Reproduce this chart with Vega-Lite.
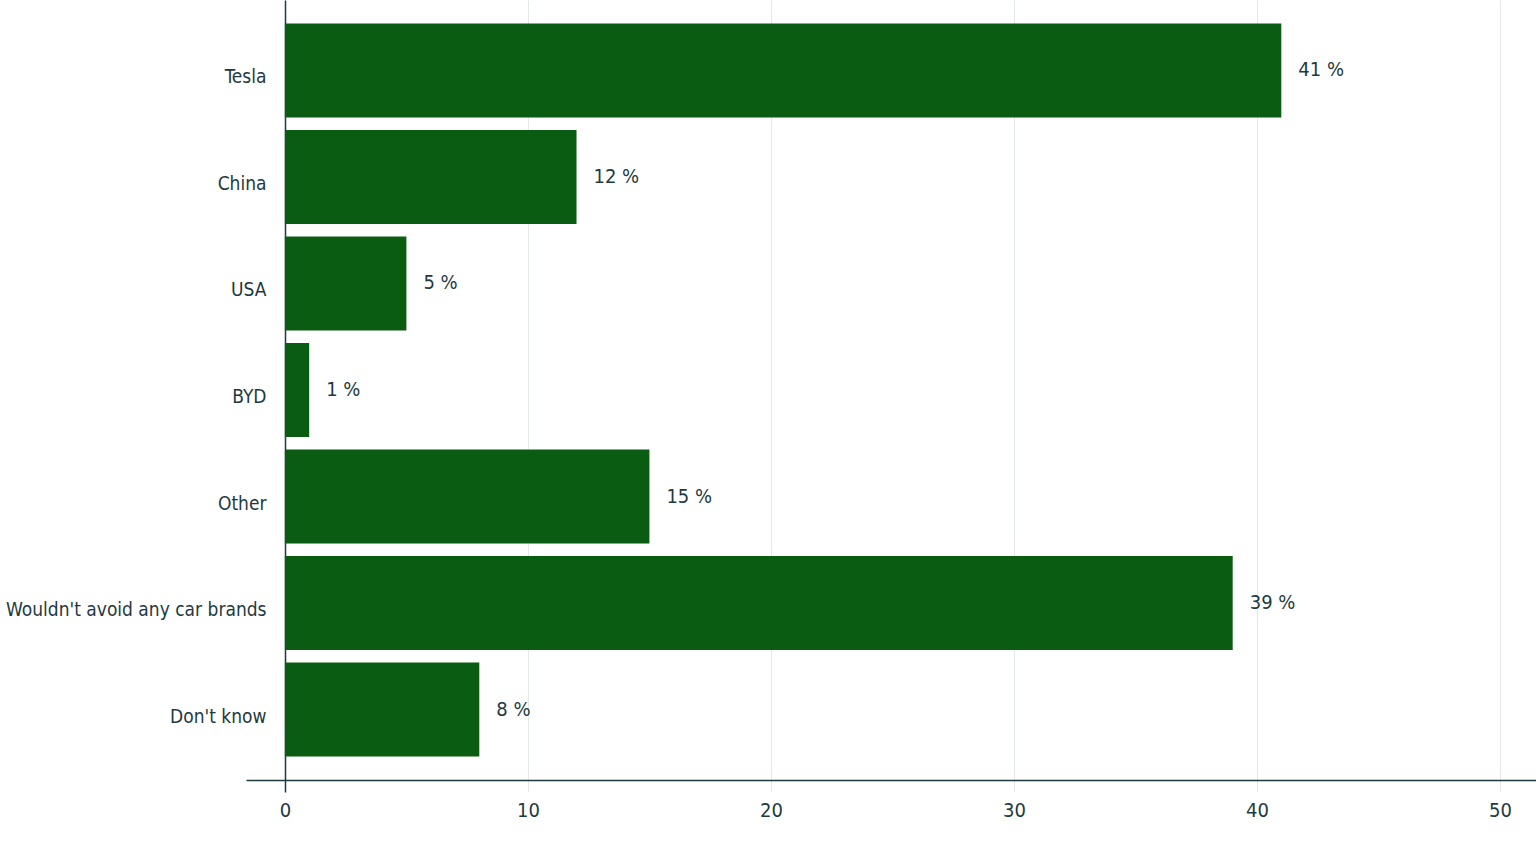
{
  "$schema": "https://vega.github.io/schema/vega-lite/v6.json",
  "width": 1290,
  "height": 780,
  "autosize": {"type": "none"},
  "padding": {"left": 246, "top": 0, "right": 0, "bottom": 83},
  "background": "#ffffff",
  "config": {
    "view": {"stroke": null},
    "font": "DejaVu Sans Condensed",
    "axis": {"labelFont": "DejaVu Sans Condensed", "labelColor": "#1e3a3f"}
  },
  "data": {
    "values": [
      {"answer": "Tesla", "pct": 41, "label": "41 %"},
      {"answer": "China", "pct": 12, "label": "12 %"},
      {"answer": "USA", "pct": 5, "label": "5 %"},
      {"answer": "BYD", "pct": 1, "label": "1 %"},
      {"answer": "Other", "pct": 15, "label": "15 %"},
      {"answer": "Wouldn't avoid any car brands", "pct": 39, "label": "39 %"},
      {"answer": "Don't know", "pct": 8, "label": "8 %"}
    ]
  },
  "encoding": {
    "y": {
      "field": "answer",
      "type": "nominal",
      "sort": null,
      "title": null,
      "scale": {"paddingInner": 0.117, "paddingOuter": 0.22},
      "axis": {
        "offset": -39,
        "ticks": false,
        "domain": true,
        "domainColor": "#1e3a3f",
        "domainWidth": 1.5,
        "labelPadding": 19,
        "labelFontSize": 19,
        "labelLimit": 400,
        "labelBaseline": "middle",
        "labelOffset": 7
      }
    },
    "x": {
      "field": "pct",
      "type": "quantitative",
      "title": null,
      "scale": {"domain": [-1.6, 51.48], "nice": false, "zero": false},
      "axis": {
        "values": [0, 10, 20, 30, 40, 50],
        "grid": true,
        "gridColor": "#e4e8ea",
        "gridWidth": 1,
        "domainColor": "#1e3a3f",
        "domainWidth": 1.5,
        "tickSize": 12,
        "tickColor": {"condition": {"test": "datum.value == 0", "value": "#1e3a3f"}, "value": "#e4e8ea"},
        "tickWidth": {"condition": {"test": "datum.value == 0", "value": 1.5}, "value": 1},
        "labelPadding": 8,
        "labelFontSize": 20
      }
    }
  },
  "layer": [
    {
      "mark": {"type": "bar", "color": "#0a5c12"},
      "encoding": {"x2": {"datum": 0}}
    },
    {
      "mark": {"type": "text", "align": "left", "baseline": "middle", "dx": 17, "fontSize": 20, "color": "#1e3a3f", "font": "DejaVu Sans Condensed"},
      "encoding": {"text": {"field": "label", "type": "nominal"}}
    }
  ]
}
